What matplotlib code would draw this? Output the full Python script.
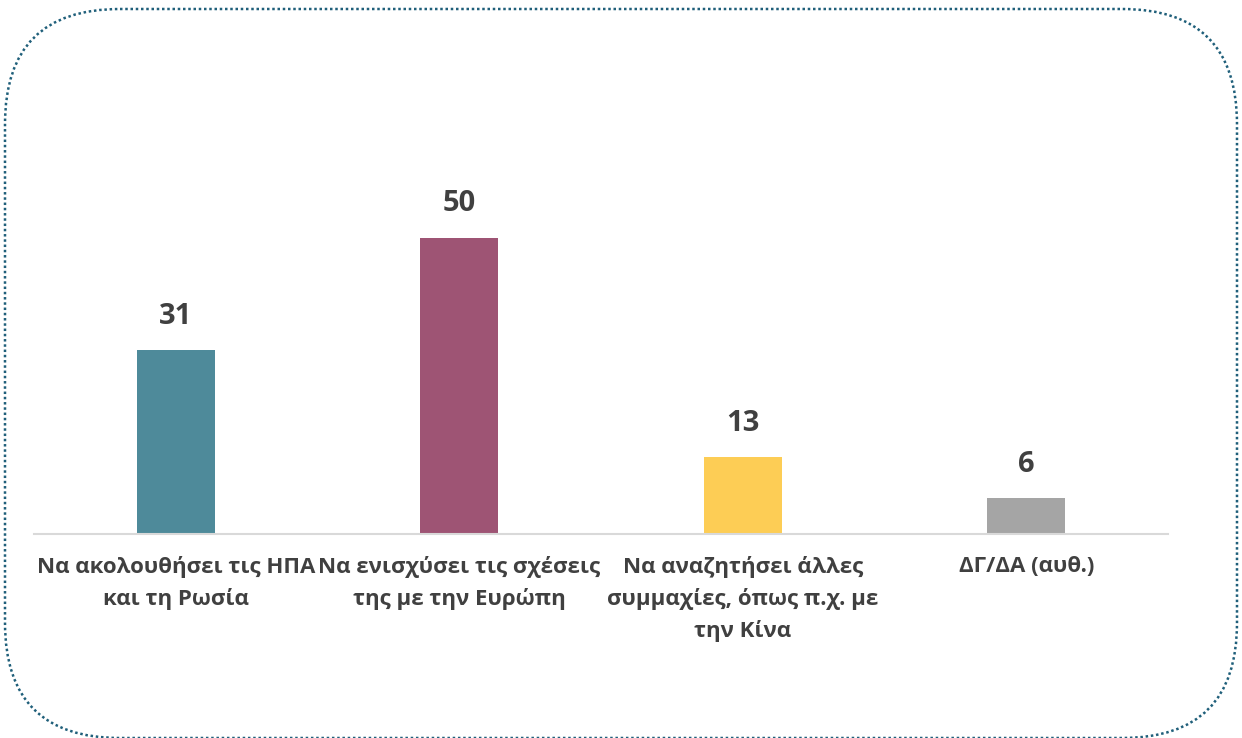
import matplotlib
matplotlib.use("Agg")
import matplotlib.pyplot as plt
from matplotlib.patches import FancyBboxPatch

# survey answers (%)
categories = [
    "Να ακολουθήσει τις ΗΠΑ\nκαι τη Ρωσία",
    "Να ενισχύσει τις σχέσεις\nτης με την Ευρώπη",
    "Να αναζητήσει άλλες\nσυμμαχίες, όπως π.χ. με\nτην Κίνα",
    "ΔΓ/ΔΑ (αυθ.)",
]
values = [31, 50, 13, 6]
colors = ["#4e8a9a", "#9e5474", "#fdcd55", "#a5a5a5"]

plt.rcParams['font.family'] = ['Open Sans', 'DejaVu Sans']
text_color = "#404040"

W, H = 1242, 738
fig = plt.figure(figsize=(W / 100, H / 100), dpi=100)

# rounded dotted frame, drawn in pixel coordinates
bg = fig.add_axes([0, 0, 1, 1])
bg.set_xlim(0, W)
bg.set_ylim(H, 0)
bg.axis("off")
frame = FancyBboxPatch((5, 9), 1232, 729, boxstyle="round,pad=0,rounding_size=115",
                       fill=False, edgecolor="#1f5f7a", linewidth=1.8,
                       linestyle=(0, (1, 1.1)))
bg.add_patch(frame)

# main chart
left, right = 34, 1168
base, top = 534, 100
ax = fig.add_axes([left / W, (H - base) / H, (right - left) / W, (base - top) / H])
x = range(len(values))
bars = ax.bar(x, values, width=0.275, color=colors)
ax.set_xlim(-0.5, 3.5)
ax.set_ylim(0, (base - top) / 5.92)

for rect, v in zip(bars, values):
    ax.text(rect.get_x() + rect.get_width() / 2, v + 3.3, str(v), ha="center", va="bottom",
            fontsize=21, fontweight="bold", color=text_color)

ax.set_xticks(list(x))
ax.set_xticklabels(categories, fontsize=16, fontweight="bold", color=text_color,
                   linespacing=1.58)
ax.tick_params(axis="x", length=0, pad=16)
ax.set_yticks([])
for s in ["top", "left", "right"]:
    ax.spines[s].set_visible(False)
ax.spines["bottom"].set_color("#d9d9d9")
ax.spines["bottom"].set_linewidth(1.5)
ax.patch.set_alpha(0)

fig.savefig("out.png", dpi=100)
